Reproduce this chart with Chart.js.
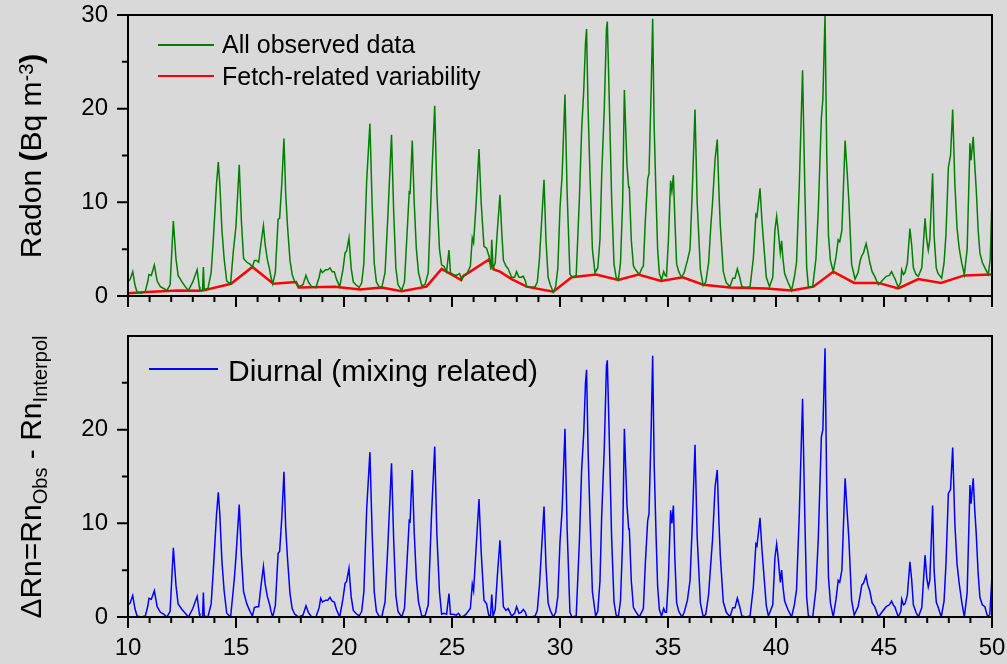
<!DOCTYPE html>
<html><head><meta charset="utf-8">
<script src="https://cdn.jsdelivr.net/npm/chart.js@4"></script>
<style>
html,body{margin:0;padding:0;background:#d9d9d9;}
body{width:1007px;height:664px;position:relative;overflow:hidden;font-family:"Liberation Sans",Arial,sans-serif;color:#000;}
canvas{position:absolute;left:0;}
#c1{top:0;}
#c2{top:320px;}
.ytitle{position:absolute;white-space:nowrap;font-size:30px;line-height:30px;transform:translate(-50%,-50%) rotate(-90deg);}
.leg{position:absolute;white-space:nowrap;line-height:1;}
.sw{position:absolute;}
.sup{position:relative;top:-0.42em;font-size:0.67em;}
.sub{position:relative;top:0.3em;font-size:0.67em;}
</style></head><body>
<canvas id="c1" width="1007" height="320"></canvas>
<canvas id="c2" width="1007" height="344"></canvas>

<div class="ytitle" style="left:31.6px;top:155.5px;">Radon <b>(</b>Bq m<span class="sup">-3</span><b>)</b></div>
<div class="ytitle" style="left:31.6px;top:476.5px;">&Delta;Rn=Rn<span class="sub">Obs</span> - Rn<span class="sub">Interpol</span></div>

<div class="sw" style="left:158px;top:44.25px;width:56px;height:1.5px;background:#008000"></div>
<div class="leg" style="left:222px;top:31.8px;font-size:25px">All observed data</div>
<div class="sw" style="left:158px;top:74.75px;width:56px;height:2.5px;background:#ff0000"></div>
<div class="leg" style="left:222px;top:63.8px;font-size:25px">Fetch-related variability</div>
<div class="sw" style="left:149px;top:368.25px;width:69px;height:1.5px;background:#0000ff"></div>
<div class="leg" style="left:228px;top:355.6px;font-size:30px">Diurnal (mixing related)</div>

<script>
// ---------- DATA ----------
const xTickLabels = [10, 15, 20, 25, 30, 35, 40, 45, 50];
const xMinorTicks = [11,12,13,14,16,17,18,19,21,22,23,24,26,27,28,29,31,32,33,34,36,37,38,39,41,42,43,44,46,47,48,49];
const yTopTickLabels = [0, 10, 20, 30];
const yBottomTickLabels = [0, 10, 20];
const yMinorTicks = [5, 15, 25];

// All observed data [day, Bq m-3]
const observed = [
[10.00,1.5],[10.10,1.8],[10.22,2.6],[10.32,1.2],[10.42,0.4],[10.60,0.3],[10.80,0.5],[10.92,1.6],[10.97,2.3],[11.08,2.2],
[11.22,3.3],[11.35,1.6],[11.50,1.0],[11.65,0.8],[11.80,0.6],[11.95,1.2],[12.10,8.0],[12.22,4.0],[12.32,2.2],[12.50,1.5],
[12.65,1.0],[12.80,0.6],[13.00,1.5],[13.20,2.8],[13.30,1.0],[13.33,0.6],[13.45,0.6],[13.49,3.1],[13.53,0.7],[13.70,0.8],
[13.85,2.5],[13.95,6.0],[14.10,12.0],[14.18,14.3],[14.25,12.0],[14.35,7.0],[14.45,4.0],[14.57,1.6],[14.75,1.3],[14.87,4.6],
[15.00,7.5],[15.15,14.0],[15.25,8.0],[15.35,4.0],[15.50,3.6],[15.65,3.4],[15.76,3.1],[15.85,3.8],[15.95,3.8],[16.05,3.6],
[16.15,5.5],[16.27,7.5],[16.35,5.5],[16.45,3.9],[16.56,2.8],[16.62,2.0],[16.70,1.3],[16.82,2.5],[16.95,8.2],[17.02,8.3],
[17.12,12.0],[17.22,16.8],[17.30,11.0],[17.38,7.6],[17.50,3.8],[17.60,2.3],[17.72,1.5],[17.90,1.0],[18.10,1.2],[18.24,2.2],
[18.35,1.5],[18.50,1.0],[18.70,0.9],[18.85,2.0],[18.92,2.8],[19.00,2.5],[19.15,2.8],[19.25,2.8],[19.35,3.0],[19.45,2.6],
[19.55,2.6],[19.65,1.8],[19.80,1.0],[19.95,2.8],[20.05,4.6],[20.12,4.8],[20.23,6.2],[20.33,3.0],[20.43,1.5],[20.55,1.2],
[20.70,0.9],[20.82,1.4],[20.92,3.5],[21.05,12.3],[21.20,18.4],[21.30,10.0],[21.40,3.5],[21.50,1.5],[21.62,1.0],[21.75,0.9],
[21.90,2.5],[22.02,8.0],[22.20,17.2],[22.30,9.0],[22.40,3.0],[22.50,1.2],[22.67,0.6],[22.80,1.5],[22.95,8.0],[23.02,11.1],
[23.06,11.0],[23.16,16.6],[23.25,10.0],[23.35,5.0],[23.45,2.5],[23.60,1.1],[23.75,1.2],[23.90,2.5],[24.05,12.0],[24.20,20.3],
[24.30,11.0],[24.42,5.0],[24.52,3.3],[24.62,3.2],[24.75,2.6],[24.86,4.9],[24.93,2.5],[25.05,2.3],[25.20,2.2],[25.35,2.4],
[25.45,1.7],[25.55,2.2],[25.70,2.4],[25.85,3.2],[25.94,6.2],[26.00,5.7],[26.12,10.0],[26.25,15.7],[26.35,10.0],[26.48,5.3],
[26.60,5.1],[26.72,4.2],[26.80,2.8],[26.84,6.0],[26.90,3.0],[27.00,3.5],[27.10,7.0],[27.22,10.8],[27.30,7.0],[27.38,3.8],
[27.50,3.2],[27.60,2.9],[27.76,2.0],[27.90,2.0],[27.99,2.6],[28.10,2.0],[28.20,2.0],[28.30,2.1],[28.40,1.6],[28.46,1.0],
[28.65,0.9],[28.85,1.0],[28.95,1.5],[29.05,4.0],[29.15,8.0],[29.26,12.4],[29.35,6.0],[29.45,2.0],[29.55,1.2],[29.69,0.4],
[29.80,1.0],[29.90,3.0],[30.00,9.4],[30.10,13.0],[30.23,21.5],[30.33,11.0],[30.46,2.3],[30.60,2.0],[30.75,2.2],[30.90,10.5],
[31.00,17.6],[31.10,22.0],[31.18,27.0],[31.23,28.5],[31.30,20.0],[31.39,12.9],[31.50,5.0],[31.62,2.5],[31.75,3.0],[31.85,6.0],
[31.93,12.9],[32.05,20.0],[32.15,28.5],[32.19,29.3],[32.27,22.0],[32.39,10.5],[32.50,3.4],[32.60,2.0],[32.70,1.7],[32.80,3.5],
[32.90,10.0],[32.98,22.0],[33.10,14.0],[33.18,11.6],[33.21,11.6],[33.30,6.0],[33.40,3.2],[33.50,2.8],[33.67,2.3],[33.80,3.0],
[33.86,3.2],[33.95,8.0],[34.06,12.5],[34.12,13.0],[34.22,22.0],[34.29,29.6],[34.36,18.0],[34.45,10.3],[34.52,5.0],[34.60,2.4],
[34.70,1.7],[34.80,2.6],[34.87,2.2],[34.93,2.1],[35.02,6.0],[35.12,12.3],[35.18,11.2],[35.25,12.9],[35.32,8.0],[35.40,3.4],
[35.50,2.6],[35.62,2.0],[35.75,2.5],[35.90,3.8],[36.02,5.0],[36.12,11.0],[36.25,19.9],[36.35,10.0],[36.50,2.8],[36.63,1.1],
[36.75,1.5],[36.88,3.5],[36.98,7.4],[37.06,9.9],[37.18,14.6],[37.28,16.7],[37.36,11.0],[37.42,7.6],[37.56,2.6],[37.70,1.4],
[37.87,1.0],[38.00,1.9],[38.10,1.9],[38.21,2.9],[38.32,2.0],[38.42,1.0],[38.60,0.9],[38.80,1.0],[38.95,4.0],[39.07,8.7],
[39.12,8.5],[39.26,11.5],[39.35,8.0],[39.45,5.0],[39.55,2.0],[39.70,1.0],[39.85,2.0],[39.95,7.0],[40.03,8.5],[40.10,7.0],
[40.20,4.6],[40.26,5.9],[40.32,4.0],[40.40,2.4],[40.55,1.5],[40.72,0.6],[40.85,2.0],[40.95,3.6],[41.08,12.0],[41.23,24.1],
[41.33,12.0],[41.42,3.0],[41.50,1.0],[41.70,1.0],[41.85,4.0],[41.96,9.2],[42.10,19.0],[42.17,21.0],[42.27,30.0],[42.35,15.0],
[42.43,6.4],[42.52,3.8],[42.65,2.6],[42.78,4.2],[42.88,6.0],[42.95,5.8],[43.05,7.0],[43.20,16.6],[43.30,13.0],[43.37,10.3],
[43.50,3.4],[43.66,1.8],[43.80,2.5],[43.90,3.8],[43.97,4.3],[44.05,4.6],[44.17,5.6],[44.25,4.8],[44.34,3.6],[44.45,2.6],
[44.57,2.1],[44.74,1.2],[44.90,1.6],[45.10,2.1],[45.25,2.2],[45.35,2.6],[45.45,2.1],[45.50,1.9],[45.66,0.9],[45.78,1.5],
[45.82,2.8],[45.90,2.3],[45.97,2.5],[46.08,3.5],[46.20,7.2],[46.28,5.5],[46.36,3.0],[46.48,2.3],[46.59,2.1],[46.75,3.0],
[46.90,8.3],[46.98,6.0],[47.05,4.9],[47.12,6.0],[47.25,13.1],[47.32,6.4],[47.42,3.0],[47.50,2.4],[47.67,1.9],[47.78,3.5],
[47.87,6.6],[47.98,13.7],[48.08,15.0],[48.18,19.9],[48.28,12.0],[48.38,7.3],[48.48,5.1],[48.60,3.5],[48.72,2.3],[48.85,5.0],
[48.98,16.3],[49.03,14.5],[49.13,17.0],[49.20,14.0],[49.27,11.4],[49.36,7.0],[49.44,4.6],[49.55,3.6],[49.67,3.0],[49.83,2.3],
[49.92,4.0],[50.00,10.6]
];

// Fetch-related variability [day, Bq m-3]
const fetchRelated = [
[10.00,0.3],[11.10,0.45],[12.30,0.6],[13.33,0.55],[13.50,0.6],[14.77,1.3],[15.76,3.1],[16.73,1.3],[17.78,1.5],[17.90,0.9],
[19.58,1.0],[20.74,0.7],[21.74,0.9],[22.67,0.5],[23.82,1.0],[24.52,2.9],[25.42,1.7],[25.50,2.1],[26.71,3.9],[26.96,2.8],
[27.22,2.6],[27.76,1.8],[28.46,1.0],[29.69,0.45],[30.54,2.0],[31.67,2.3],[32.70,1.7],[33.63,2.3],[34.68,1.6],[35.68,2.0],
[36.63,1.2],[37.87,0.9],[39.57,0.8],[40.72,0.6],[41.73,1.0],[42.65,2.6],[43.62,1.4],[44.74,1.4],[45.66,0.8],[46.59,1.8],
[47.64,1.4],[48.72,2.2],[50.00,2.3]
];

// Diurnal (mixing related) [day, ΔRn]
const diurnal = [
[10.00,1.3],[10.10,1.5],[10.22,2.3],[10.32,0.9],[10.42,0.1],[10.60,0.0],[10.80,0.1],[10.92,1.2],[10.97,2.0],[11.08,1.9],
[11.22,2.8],[11.35,1.1],[11.50,0.5],[11.65,0.3],[11.80,0.0],[11.95,0.6],[12.10,7.4],[12.22,3.4],[12.32,1.4],[12.50,0.8],
[12.65,0.4],[12.80,0.0],[13.00,0.9],[13.20,2.2],[13.30,0.4],[13.33,0.0],[13.45,0.0],[13.49,2.6],[13.53,0.1],[13.70,0.0],
[13.85,1.4],[13.95,5.0],[14.10,11.0],[14.18,13.3],[14.25,11.0],[14.35,5.9],[14.45,2.8],[14.57,0.4],[14.75,0.0],[14.87,2.8],
[14.93,4.3],[15.00,6.5],[15.15,12.0],[15.25,6.5],[15.35,2.7],[15.50,1.4],[15.65,0.6],[15.76,0.1],[15.85,1.0],[15.95,1.1],
[16.05,1.1],[16.15,3.2],[16.27,5.4],[16.35,3.5],[16.45,2.2],[16.56,1.3],[16.62,0.6],[16.70,0.0],[16.82,1.2],[16.95,6.8],
[17.02,7.0],[17.12,10.6],[17.22,15.5],[17.30,9.6],[17.38,6.4],[17.50,2.5],[17.60,0.9],[17.72,0.3],[17.90,0.0],[18.10,0.2],
[18.24,1.2],[18.35,0.5],[18.50,0.0],[18.70,0.0],[18.85,1.0],[18.92,2.0],[19.00,1.6],[19.15,1.8],[19.25,1.8],[19.35,2.1],
[19.45,1.7],[19.55,1.6],[19.65,0.8],[19.80,0.0],[19.95,1.9],[20.05,3.6],[20.12,3.8],[20.23,5.2],[20.33,2.2],[20.43,0.7],
[20.55,0.4],[20.70,0.1],[20.82,0.6],[20.92,2.7],[21.05,11.5],[21.20,17.6],[21.30,9.2],[21.40,2.7],[21.50,0.6],[21.62,0.1],
[21.75,0.0],[21.90,1.6],[22.02,7.1],[22.20,16.4],[22.30,8.2],[22.40,2.3],[22.50,0.6],[22.67,0.0],[22.80,0.9],[22.95,7.3],
[23.02,10.3],[23.06,10.2],[23.16,15.7],[23.25,9.1],[23.35,4.1],[23.45,1.6],[23.60,0.1],[23.75,0.1],[23.90,1.3],[24.05,10.8],
[24.20,18.2],[24.30,8.8],[24.42,2.7],[24.52,0.3],[24.62,0.4],[24.75,0.3],[24.86,2.5],[24.93,0.3],[25.05,0.3],[25.20,0.2],
[25.30,0.4],[25.42,0.0],[25.55,0.1],[25.65,0.3],[25.85,0.9],[25.94,3.5],[26.00,2.8],[26.12,7.5],[26.25,12.6],[26.35,7.0],
[26.48,1.8],[26.60,1.4],[26.70,0.2],[26.78,0.0],[26.84,2.4],[26.90,0.1],[27.00,0.8],[27.10,4.4],[27.22,8.2],[27.30,4.4],
[27.38,1.1],[27.50,0.7],[27.60,0.9],[27.76,0.1],[27.90,0.4],[27.99,1.1],[28.10,0.4],[28.20,0.5],[28.30,0.8],[28.40,0.5],
[28.46,0.0],[28.65,0.0],[28.85,0.1],[28.95,0.7],[29.05,3.4],[29.15,7.4],[29.26,11.8],[29.35,5.5],[29.45,1.5],[29.55,0.7],
[29.69,0.0],[29.80,0.5],[29.90,2.2],[30.00,8.0],[30.10,11.5],[30.23,20.1],[30.33,9.4],[30.46,0.5],[30.55,0.0],[30.75,0.1],
[30.90,8.2],[31.00,15.6],[31.10,19.7],[31.18,25.0],[31.23,26.4],[31.30,17.8],[31.39,10.6],[31.50,2.7],[31.65,0.1],[31.75,0.6],
[31.85,3.8],[31.93,10.8],[32.05,18.0],[32.15,26.8],[32.19,27.4],[32.27,20.2],[32.39,8.5],[32.50,1.6],[32.60,0.2],[32.70,0.0],
[32.80,1.7],[32.90,8.2],[32.98,20.1],[33.10,12.0],[33.18,9.4],[33.21,9.4],[33.30,3.9],[33.40,1.0],[33.50,0.6],[33.67,0.0],
[33.80,0.6],[33.86,0.9],[33.95,5.7],[34.06,10.3],[34.12,11.0],[34.22,20.0],[34.29,27.9],[34.36,16.3],[34.45,8.5],[34.52,3.3],
[34.60,0.8],[34.70,0.1],[34.80,0.9],[34.87,0.5],[34.93,0.5],[35.02,4.2],[35.12,11.4],[35.18,10.0],[35.25,11.9],[35.32,6.1],
[35.40,1.5],[35.50,0.6],[35.65,0.0],[35.75,0.5],[35.90,1.8],[36.02,3.9],[36.12,9.6],[36.25,18.4],[36.35,8.6],[36.50,1.5],
[36.63,0.0],[36.75,0.3],[36.88,2.4],[36.98,5.7],[37.06,8.2],[37.18,13.9],[37.28,15.7],[37.36,10.0],[37.42,6.6],[37.56,1.6],
[37.70,0.5],[37.87,0.0],[38.00,1.0],[38.10,1.0],[38.21,2.0],[38.32,1.1],[38.42,0.1],[38.60,0.0],[38.80,0.1],[38.95,3.2],
[39.07,7.8],[39.12,7.6],[39.26,10.6],[39.35,7.2],[39.45,4.2],[39.55,1.2],[39.65,0.1],[39.85,1.3],[39.95,6.3],[40.03,7.8],
[40.10,6.3],[40.20,3.7],[40.26,5.0],[40.32,3.3],[40.40,1.7],[40.55,0.8],[40.72,0.0],[40.85,1.3],[40.95,2.9],[41.08,11.1],
[41.23,23.3],[41.33,11.1],[41.42,2.1],[41.50,0.1],[41.70,0.0],[41.85,3.0],[41.96,8.5],[42.10,19.2],[42.17,20.0],[42.27,28.7],
[42.35,13.5],[42.43,4.2],[42.52,1.5],[42.65,0.0],[42.78,1.9],[42.88,3.9],[42.95,3.7],[43.05,5.0],[43.20,14.8],[43.30,11.0],
[43.37,8.5],[43.50,1.8],[43.62,0.2],[43.80,1.1],[43.90,2.4],[43.97,3.4],[44.05,3.6],[44.17,4.4],[44.25,3.4],[44.34,2.8],
[44.45,1.5],[44.57,1.1],[44.74,0.0],[44.90,0.5],[45.10,1.1],[45.25,1.3],[45.35,1.7],[45.45,1.2],[45.50,1.1],[45.66,0.0],
[45.78,0.6],[45.82,1.9],[45.90,1.3],[45.97,1.4],[46.08,2.3],[46.20,5.9],[46.28,4.0],[46.36,1.3],[46.48,0.5],[46.59,0.0],
[46.75,1.0],[46.90,6.6],[46.98,4.2],[47.05,3.2],[47.12,3.9],[47.25,11.9],[47.32,5.0],[47.42,1.6],[47.50,1.1],[47.65,0.0],
[47.78,1.7],[47.87,5.7],[47.98,13.2],[48.08,13.6],[48.18,18.1],[48.28,10.0],[48.38,5.7],[48.48,3.6],[48.60,1.6],[48.72,0.0],
[48.85,2.6],[48.98,14.1],[49.03,12.1],[49.13,14.8],[49.20,11.5],[49.27,8.9],[49.36,4.6],[49.44,2.1],[49.55,1.3],[49.67,1.1],
[49.80,0.0],[49.90,0.3],[50.00,4.4]
];

// ---------- CHARTS ----------
const FONT = {family:'"Liberation Sans", Arial, sans-serif', size:24};

function toXY(arr){ return arr.map(p => ({x:p[0], y:p[1]})); }

function decorPlugin(yMajor){
  return {
    id:'decor',
    afterDatasetsDraw(chart){
      const {ctx, chartArea:a, scales:{x, y}} = chart;
      ctx.save();
      ctx.strokeStyle = '#000';
      ctx.lineWidth = 2;
      ctx.beginPath();
      xTickLabels.forEach(v => { const px = x.getPixelForValue(v); ctx.moveTo(px, a.bottom); ctx.lineTo(px, a.bottom + 11); });
      xMinorTicks.forEach(v => { const px = x.getPixelForValue(v); ctx.moveTo(px, a.bottom); ctx.lineTo(px, a.bottom + 6); });
      yMajor.forEach(v => { const py = y.getPixelForValue(v); ctx.moveTo(a.left, py); ctx.lineTo(a.left - 11, py); });
      yMinorTicks.forEach(v => { const py = y.getPixelForValue(v); ctx.moveTo(a.left, py); ctx.lineTo(a.left - 6, py); });
      ctx.stroke();
      ctx.strokeRect(a.left, a.top, a.right - a.left, a.bottom - a.top);
      ctx.restore();
    }
  };
}

// invisible tick marks only reserve the gap between axis and labels
const hiddenGrid = len => ({display:true, drawOnChartArea:false, drawTicks:true, tickLength:len,
                            color:'rgba(0,0,0,0)', tickColor:'rgba(0,0,0,0)'});

function makeChart(id, datasets, cfg){
  return new Chart(document.getElementById(id), {
    type:'line',
    data:{datasets},
    options:{
      responsive:false,
      animation:false,
      events:[],
      layout:{padding:{top:cfg.padTop, right:15, left:0, bottom:0}},
      plugins:{legend:{display:false}, tooltip:{enabled:false}},
      elements:{point:{radius:0}, line:{tension:0}},
      scales:{
        x:{
          type:'linear', min:10, max:50,
          afterBuildTicks:s => { s.ticks = xTickLabels.map(v => ({value:v})); },
          afterFit:s => { s.height = cfg.xH; },
          grid:hiddenGrid(17),
          border:{display:false},
          ticks:{display:cfg.xLabels, padding:0, font:FONT, color:'#000', maxRotation:0, autoSkip:false,
                 callback:v => String(v)}
        },
        y:{
          type:'linear', min:0, max:30,
          afterBuildTicks:s => { s.ticks = cfg.yTicks.map(v => ({value:v})); },
          afterFit:s => { s.width = 128; },
          grid:hiddenGrid(20),
          border:{display:false},
          ticks:{padding:0, font:FONT, color:'#000', callback:v => String(v)}
        }
      }
    },
    plugins:[decorPlugin(cfg.yTicks)]
  });
}

makeChart('c1', [
  {data:toXY(observed), borderColor:'#008000', borderWidth:1.5, fill:false},
  {data:toXY(fetchRelated), borderColor:'#ff0000', borderWidth:2.5, fill:false}
], {padTop:15, xH:24, xLabels:false, yTicks:yTopTickLabels});

makeChart('c2', [
  {data:toXY(diurnal), borderColor:'#0000ff', borderWidth:1.5, fill:false}
], {padTop:16, xH:47, xLabels:true, yTicks:yBottomTickLabels});
</script>
</body></html>
